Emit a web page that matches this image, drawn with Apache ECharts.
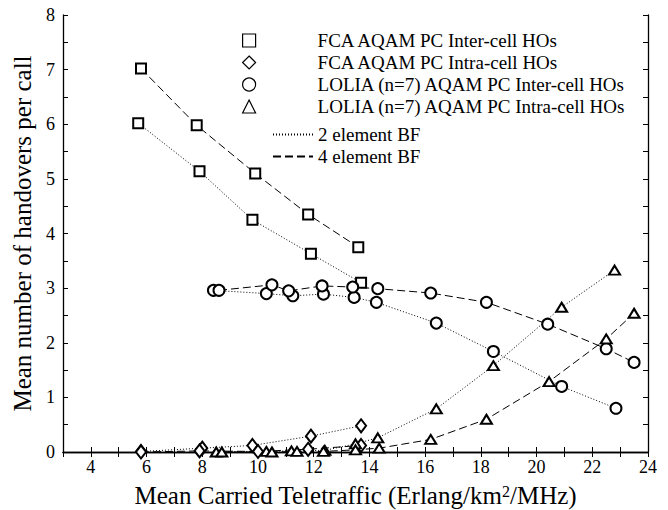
<!DOCTYPE html>
<html>
<head>
<meta charset="utf-8">
<script src="https://cdn.jsdelivr.net/npm/echarts@6.0.0/dist/echarts.min.js"></script>
<style>
  html, body { margin: 0; padding: 0; background: #fff; }
  #main { width: 668px; height: 510px; }
</style>
</head>
<body>
<div id="main"></div>
<script>
// legend names
const markerNames = ['FCA AQAM PC Inter-cell HOs', 'FCA AQAM PC Intra-cell HOs',
  'LOLIA (n=7) AQAM PC Inter-cell HOs', 'LOLIA (n=7) AQAM PC Intra-cell HOs'];
const lineNames = ['2 element BF', '4 element BF'];

// FCA inter-cell (squares)
const fcaInterX2 = [5.7, 7.9, 9.8, 11.9, 13.7];
const fcaInterY2 = [6.02, 5.14, 4.25, 3.63, 3.1];
const fcaInterX4 = [5.8, 7.8, 9.9, 11.8, 13.6];
const fcaInterY4 = [7.02, 5.98, 5.1, 4.35, 3.75];

// FCA intra-cell (diamonds)
const fcaIntraX2 = [5.8, 8.0, 9.8, 11.9, 13.7];
const fcaIntraY2 = [0.01, 0.07, 0.12, 0.29, 0.48];
const fcaIntraX4 = [5.8, 7.9, 10.0, 11.8, 13.7];
const fcaIntraY4 = [0.0, 0.02, 0.01, 0.05, 0.12];

// LOLIA inter-cell (circles)
const loliaInterX2 = [8.4, 10.3, 11.25, 12.35, 13.45, 14.25, 16.4, 18.45, 20.9, 22.85];
const loliaInterY2 = [2.96, 2.9, 2.86, 2.89, 2.83, 2.74, 2.36, 1.84, 1.2, 0.8];
const loliaInterX4 = [8.6, 10.5, 11.1, 12.3, 13.4, 14.3, 16.2, 18.2, 20.4, 22.5, 23.5];
const loliaInterY4 = [2.96, 3.06, 2.95, 3.04, 3.02, 2.99, 2.91, 2.74, 2.34, 1.89, 1.64];

// LOLIA intra-cell (triangles)
const loliaIntraX2 = [8.5, 10.3, 11.2, 12.4, 13.5, 14.3, 16.4, 18.45, 20.9, 22.8];
const loliaIntraY2 = [0.0, 0.01, 0.02, 0.03, 0.15, 0.26, 0.79, 1.58, 2.65, 3.33];
const loliaIntraX4 = [8.7, 10.5, 11.4, 12.35, 13.5, 14.35, 16.2, 18.2, 20.45, 22.5, 23.5];
const loliaIntraY4 = [0.0, 0.0, 0.01, 0.01, 0.04, 0.07, 0.23, 0.6, 1.29, 2.07, 2.54];

const serif = 'Liberation Serif, Times New Roman, serif';
const dotted = [1, 2];
const dashed = [8, 4];

function zip(xs, ys) {
  return xs.map((x, i) => [x, ys[i]]);
}

function makeSeries(name, xs, ys, symbol, size, dash) {
  return {
    name: name,
    type: 'line',
    data: zip(xs, ys),
    symbol: symbol,
    symbolSize: size,
    showAllSymbol: true,
    lineStyle: { color: '#000', width: 1, type: dash },
    itemStyle: { color: '#000', borderColor: '#000', borderWidth: 1.1 },
    emphasis: { disabled: true }
  };
}

const series = [
  makeSeries(markerNames[0], fcaInterX2, fcaInterY2, 'emptyRect', 10, dotted),
  makeSeries(markerNames[0], fcaInterX4, fcaInterY4, 'emptyRect', 10, dashed),
  makeSeries(markerNames[1], fcaIntraX2, fcaIntraY2, 'emptyDiamond', [10, 13], dotted),
  makeSeries(markerNames[1], fcaIntraX4, fcaIntraY4, 'emptyDiamond', [10, 13], dashed),
  makeSeries(markerNames[2], loliaInterX2, loliaInterY2, 'emptyCircle', 11, dotted),
  makeSeries(markerNames[2], loliaInterX4, loliaInterY4, 'emptyCircle', 11, dashed),
  makeSeries(markerNames[3], loliaIntraX2, loliaIntraY2, 'emptyTriangle', [11, 9], dotted),
  makeSeries(markerNames[3], loliaIntraX4, loliaIntraY4, 'emptyTriangle', [11, 9], dashed),
  // only for the line style legend
  { name: lineNames[0], type: 'line', data: [], symbol: 'none',
    lineStyle: { color: '#000', width: 1, type: dotted }, itemStyle: { color: '#000' } },
  { name: lineNames[1], type: 'line', data: [], symbol: 'none',
    lineStyle: { color: '#000', width: 1, type: dashed }, itemStyle: { color: '#000' } }
];

const axisLineStyle = { color: '#000', width: 1.3 };

const option = {
  animation: false,
  backgroundColor: '#fff',
  grid: { left: 63, right: 20, top: 15, bottom: 58, outerBoundsMode: 'none' },
  legend: [
    {
      data: [
        { name: markerNames[0], icon: 'rect' },
        { name: markerNames[1], icon: 'diamond' },
        { name: markerNames[2], icon: 'circle' },
        { name: markerNames[3], icon: 'triangle' }
      ],
      orient: 'vertical',
      left: 242, top: 31,
      itemWidth: 13, itemHeight: 13, itemGap: 3,
      padding: 0,
      selectedMode: false,
      itemStyle: { color: '#fff', borderColor: '#000', borderWidth: 1.2 },
      textStyle: { fontFamily: serif, fontSize: 19, color: '#000', padding: [0, 0, 0, 57] }
    },
    {
      data: lineNames,
      orient: 'vertical',
      left: 272, top: 125,
      itemWidth: 40, itemHeight: 13, itemGap: 3,
      padding: 0,
      selectedMode: false,
      itemStyle: { opacity: 0 },
      textStyle: { fontFamily: serif, fontSize: 19, color: '#000' }
    }
  ],
  xAxis: [
    {
      type: 'value', min: 3, max: 24, interval: 1,
      name: 'Mean Carried Teletraffic (Erlang/km{sup|2}/MHz)',
      nameLocation: 'middle', nameGap: 31,
      nameTextStyle: {
        fontFamily: serif, fontSize: 25, color: '#000',
        rich: { sup: { fontFamily: serif, fontSize: 16, color: '#000', verticalAlign: 'top', padding: [0, 0, 8, 0] } }
      },
      axisLine: { lineStyle: axisLineStyle },
      axisTick: { inside: true, length: 5, lineStyle: { color: '#000' } },
      axisLabel: {
        fontFamily: serif, fontSize: 18, color: '#000', margin: 6,
        formatter: v => (v % 2 === 0 ? String(v) : '')
      },
      splitLine: { show: false }
    },
    {
      type: 'value', min: 3, max: 24, interval: 1, position: 'top',
      axisLine: { lineStyle: axisLineStyle },
      axisTick: { inside: true, length: 5, lineStyle: { color: '#000' } },
      axisLabel: { show: false },
      splitLine: { show: false }
    }
  ],
  yAxis: [
    {
      type: 'value', min: 0, max: 8, interval: 0.5,
      name: 'Mean number of handovers per call',
      nameLocation: 'middle', nameGap: 18,
      nameTextStyle: { fontFamily: serif, fontSize: 25, color: '#000' },
      axisLine: { show: true, lineStyle: axisLineStyle },
      axisTick: { show: true, inside: true, length: 5, lineStyle: { color: '#000' } },
      axisLabel: {
        fontFamily: serif, fontSize: 18, color: '#000', margin: 8,
        formatter: v => (v % 1 === 0 ? String(v) : '')
      },
      splitLine: { show: false }
    },
    {
      type: 'value', min: 0, max: 8, interval: 0.5, position: 'right',
      axisLine: { show: true, lineStyle: axisLineStyle },
      axisTick: { show: true, inside: true, length: 5, lineStyle: { color: '#000' } },
      axisLabel: { show: false },
      splitLine: { show: false }
    }
  ],
  series: series
};

const chart = echarts.init(document.getElementById('main'), null, { renderer: 'svg' });
chart.setOption(option);
</script>
</body>
</html>
